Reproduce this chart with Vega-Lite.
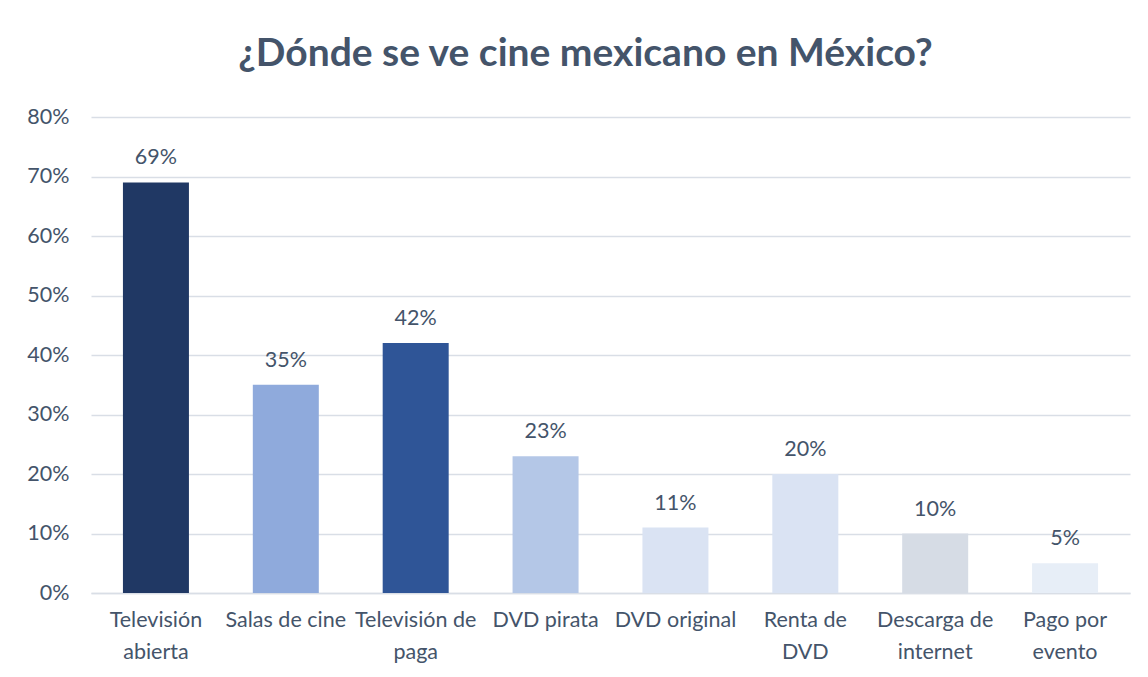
{
  "$schema": "https://vega.github.io/schema/vega-lite/v6.json",
  "autosize": "none",
  "width": 1039,
  "height": 476,
  "padding": {"left": 91, "top": 117, "right": 18, "bottom": 84},
  "background": "white",
  "title": {
    "text": "¿Dónde se ve cine mexicano en México?",
    "font": "Lato",
    "fontSize": 39,
    "fontWeight": "bold",
    "color": "#44546A",
    "anchor": "middle",
    "dx": -25,
    "offset": 32
  },
  "config": {
    "view": {"stroke": null},
    "font": "Lato"
  },
  "data": {
    "values": [
      {"medio": "Televisión abierta", "pct": 0.69},
      {"medio": "Salas de cine", "pct": 0.35},
      {"medio": "Televisión de paga", "pct": 0.42},
      {"medio": "DVD pirata", "pct": 0.23},
      {"medio": "DVD original", "pct": 0.11},
      {"medio": "Renta de DVD", "pct": 0.20},
      {"medio": "Descarga de internet", "pct": 0.10},
      {"medio": "Pago por evento", "pct": 0.05}
    ]
  },
  "encoding": {
    "x": {
      "field": "medio",
      "type": "nominal",
      "sort": null,
      "scale": {"paddingInner": 0, "paddingOuter": 0},
      "axis": {
        "title": null,
        "labelAngle": 0,
        "labelFont": "Lato",
        "labelFontSize": 21.5,
        "labelColor": "#44546A",
        "labelPadding": 16,
        "labelLineHeight": 32,
        "labelBaseline": "top",
        "labelLimit": 200,
        "ticks": false,
        "domainColor": "#D9DEE6",
        "domainWidth": 1.5,
        "labelExpr": "datum.value == 'Televisión abierta' ? ['Televisión', 'abierta'] : datum.value == 'Televisión de paga' ? ['Televisión de', 'paga'] : datum.value == 'Renta de DVD' ? ['Renta de', 'DVD'] : datum.value == 'Descarga de internet' ? ['Descarga de', 'internet'] : datum.value == 'Pago por evento' ? ['Pago por', 'evento'] : datum.value"
      }
    },
    "y": {
      "field": "pct",
      "type": "quantitative",
      "scale": {"domain": [0, 0.8], "nice": false},
      "axis": {
        "title": null,
        "format": ".0%",
        "values": [0, 0.1, 0.2, 0.3, 0.4, 0.5, 0.6, 0.7, 0.8],
        "labelFont": "Lato",
        "labelFontSize": 21.5,
        "labelColor": "#44546A",
        "labelPadding": 22,
        "ticks": false,
        "domain": false,
        "gridColor": "#D9DEE6",
        "gridWidth": 1.5
      }
    }
  },
  "layer": [
    {
      "mark": {"type": "bar", "width": 66},
      "encoding": {
        "color": {
          "field": "medio",
          "type": "nominal",
          "legend": null,
          "scale": {
            "domain": ["Televisión abierta", "Salas de cine", "Televisión de paga", "DVD pirata", "DVD original", "Renta de DVD", "Descarga de internet", "Pago por evento"],
            "range": ["#203864", "#8FAADC", "#2F5597", "#B4C7E7", "#DAE3F3", "#DAE3F3", "#D6DCE5", "#E7EEF7"]
          }
        }
      }
    },
    {
      "mark": {"type": "text", "baseline": "bottom", "dy": -13, "font": "Lato", "fontSize": 21.5, "color": "#44546A"},
      "encoding": {
        "text": {"field": "pct", "type": "quantitative", "format": ".0%"}
      }
    }
  ]
}
